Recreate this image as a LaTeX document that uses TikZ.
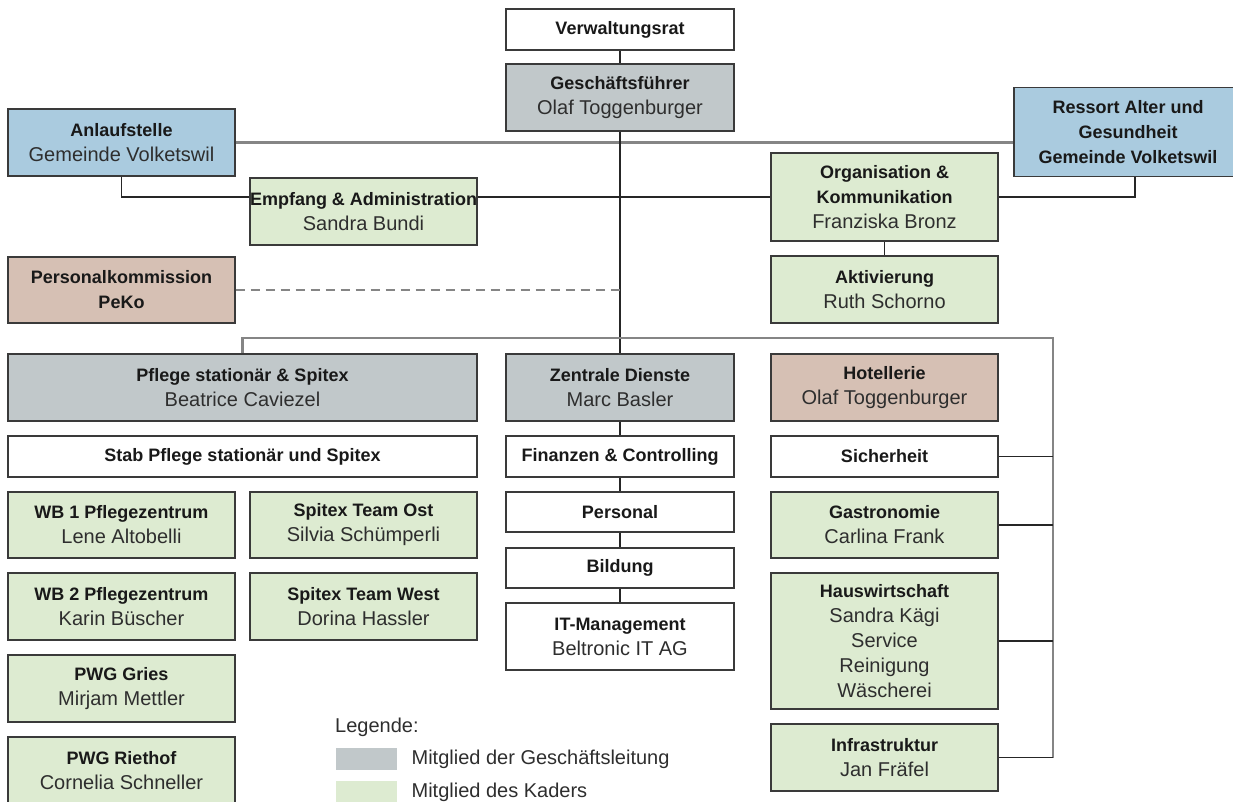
\documentclass[tikz,border=0pt]{standalone}
\usepackage{fontspec}
\setmainfont{Liberation Sans}

\definecolor{rand}{HTML}{3A3A3A}
\definecolor{txt}{HTML}{2E2E2E}
\definecolor{glfill}{HTML}{C1C8CA}
\definecolor{kaderfill}{HTML}{DDEBD1}
\definecolor{extfill}{HTML}{AACBDF}
\definecolor{pkfill}{HTML}{D6C0B4}
\definecolor{busgrey}{HTML}{858585}

\newcommand{\ttl}[1]{{\fontsize{18}{25}\selectfont\bfseries\color{black!90}#1}}

\tikzset{
  box/.style={draw=rand, line width=1.4pt, inner sep=0pt, align=center,
    minimum width=227pt, minimum height=67pt,
    font=\fontsize{20}{25}\selectfont\color{txt}},
  weiss/.style={box, fill=white},
  gl/.style={box, fill=glfill},
  kader/.style={box, fill=kaderfill},
  extern/.style={box, fill=extfill},
  pk/.style={box, fill=pkfill},
  flach/.style={minimum height=41pt},
  ast/.style={draw=black!85, line width=1.3pt},
  bus/.style={draw=busgrey, line width=2.4pt},
  strich/.style={draw=busgrey, line width=1.5pt, dash pattern=on 9pt off 6pt},
}

\begin{document}
\begin{tikzpicture}[x=1pt, y=-1pt]
        \useasboundingbox (0,0) rectangle (1233,801);

        % Schritt 1: Leitung
        \node[weiss, flach, minimum width=228pt] (verw) at (620,29.5) {\ttl{Verwaltungsrat}};
        \node[gl, minimum width=228pt] (gf) at (620,97.5) {\ttl{Geschäftsführer}\\Olaf Toggenburger};

        % Schritt 2: Stellen neben der Leitung
        \node[extern] (anl) at (121.5,142.5) {\ttl{Anlaufstelle}\\Gemeinde Volketswil};
        \node[extern, minimum width=228pt, minimum height=89pt] (ress) at (1128,132)
            {\ttl{Ressort Alter und}\\\ttl{Gesundheit}\\\ttl{Gemeinde Volketswil}};
        \node[kader] (emp) at (363.5,211.5) {\ttl{Empfang \& Administration}\\Sandra Bundi};
        \node[kader, minimum height=88pt] (org) at (884.5,197)
            {\ttl{Organisation \&}\\\ttl{Kommunikation}\\Franziska Bronz};
        \node[kader] (akt) at (884.5,289.5) {\ttl{Aktivierung}\\Ruth Schorno};
        \node[pk, minimum height=66pt] (peko) at (121.5,290) {\ttl{Personalkommission}\\\ttl{PeKo}};

        % Schritt 3: Bereiche
        \node[gl, minimum width=469pt] (pflege) at (242.5,387.5) {\ttl{Pflege stationär \& Spitex}\\Beatrice Caviezel};
        \node[gl, minimum width=228pt] (zd) at (620,387.5) {\ttl{Zentrale Dienste}\\Marc Basler};
        \node[pk] (hot) at (884.5,387.5) {\ttl{Hotellerie}\\Olaf Toggenburger};

        % Schritt 4: Pflege stationär und Spitex
        \node[weiss, flach, minimum width=469pt] (stab) at (242.5,456.5) {\ttl{Stab Pflege stationär und Spitex}};
        \node[kader, minimum height=66pt] (wbeins) at (121.5,525) {\ttl{WB 1 Pflegezentrum}\\Lene Altobelli};
        \node[kader, minimum height=66pt] (ost) at (363.5,525) {\ttl{Spitex Team Ost}\\Silvia Schümperli};
        \node[kader] (wbzwei) at (121.5,606.5) {\ttl{WB 2 Pflegezentrum}\\Karin Büscher};
        \node[kader] (west) at (363.5,606.5) {\ttl{Spitex Team West}\\Dorina Hassler};
        \node[kader] (gries) at (121.5,688.5) {\ttl{PWG Gries}\\Mirjam Mettler};
        \node[kader] (riet) at (121.5,770.5) {\ttl{PWG Riethof}\\Cornelia Schneller};

        % Schritt 5: Zentrale Dienste
        \node[weiss, flach, minimum width=228pt] (fin) at (620,456.5) {\ttl{Finanzen \& Controlling}};
        \node[weiss, minimum width=228pt, minimum height=40pt] (pers) at (620,512) {\ttl{Personal}};
        \node[weiss, minimum width=228pt, minimum height=40pt] (bild) at (620,568) {\ttl{Bildung}};
        \node[weiss, minimum width=228pt] (it) at (620,636.5) {\ttl{IT-Management}\\Beltronic IT AG};

        % Schritt 6: Hotellerie
        \node[weiss, flach] (sich) at (884.5,456.5) {\ttl{Sicherheit}};
        \node[kader, minimum height=66pt] (gastro) at (884.5,525) {\ttl{Gastronomie}\\Carlina Frank};
        \node[kader, minimum height=136pt] (hausw) at (884.5,641)
            {\ttl{Hauswirtschaft}\\Sandra Kägi\\Service\\Reinigung\\Wäscherei};
        \node[kader] (infra) at (884.5,757.5) {\ttl{Infrastruktur}\\Jan Fräfel};

        % Schritt 7: Verbindungen
        \draw[bus] (anl.east) -- (anl.east -| ress.west);
        \foreach \a/\b in {verw/gf, gf/zd, zd/fin, fin/pers, pers/bild, bild/it, org/akt}
            \draw[ast] (\a.south) -- (\b.north);
        \draw[ast] (anl.south) |- (emp.west |- org.west);
        \draw[ast] (emp.east |- org.west) -- (org.west);
        \draw[ast] (org.east) -| ([xshift=7pt]ress.south);
        \draw[strich] (peko.east) -- (peko.east -| gf.south);

        % Schritt 8: Sammelleitung zu den Bereichen
        \coordinate (busR) at (1053,338);
        \draw[bus] (pflege.north) -- (pflege.north |- busR) -- (busR) -- (busR |- infra.east);
        \foreach \n in {sich, gastro, hausw, infra}
            \draw[ast] (\n.east) -- (\n.east -| busR);

        % Schritt 9: Legende
        \node[anchor=west, inner sep=0pt, font=\fontsize{20}{25}\selectfont\color{txt}] (leg) at (335,727) {Legende:};
        \node[fill=glfill, inner sep=0pt, minimum width=61pt, minimum height=22pt, anchor=north west] (swgl) at (336,748) {};
        \node[fill=kaderfill, inner sep=0pt, minimum width=61pt, minimum height=22pt, anchor=north west] (swkader) at (336,781) {};
        \node[anchor=west, inner sep=0pt, font=\fontsize{20}{25}\selectfont\color{txt}] (txgl) at ([xshift=14pt]swgl.east) {Mitglied der Geschäftsleitung};
        \node[anchor=west, inner sep=0pt, font=\fontsize{20}{25}\selectfont\color{txt}] (txkader) at ([xshift=14pt]swkader.east) {Mitglied des Kaders};
\end{tikzpicture}
\end{document}
